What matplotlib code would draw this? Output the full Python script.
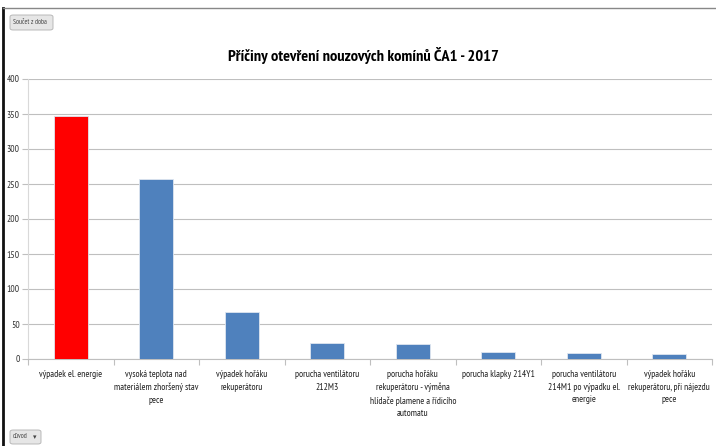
import matplotlib
matplotlib.use("Agg")
import matplotlib.pyplot as plt
from matplotlib.patches import FancyBboxPatch
from matplotlib.lines import Line2D
import numpy as np

plt.rcParams['font.family'] = ['PT Sans Narrow', 'Carlito', 'DejaVu Sans']

categories = [
    "výpadek el. energie",
    "vysoká teplota nad\nmateriálem zhoršený stav\npece",
    "výpadek hořáku\nrekuperátoru",
    "porucha ventilátoru\n212M3",
    "porucha hořáku\nrekuperátoru - výměna\nhlídače plamene a řídicího\nautomatu",
    "porucha klapky 214Y1",
    "porucha ventilátoru\n214M1 po výpadku el.\nenergie",
    "výpadek hořáku\nrekuperátoru, při nájezdu\npece",
]
values = [347, 257, 67, 23, 21, 10, 8, 7]
colors = ["#FF0000"] + ["#4F81BD"] * 7
title = "Příčiny otevření nouzových komínů ČA1 - 2017"
yticks = [0, 50, 100, 150, 200, 250, 300, 350, 400]

W, H = 716, 446
fig = plt.figure(figsize=(W / 100, H / 100), dpi=100)
ax = fig.add_axes([28 / W, (H - 359) / H, 684 / W, 280 / H])

x = np.arange(len(categories))
ax.bar(x, values, width=0.4, color=colors, edgecolor="#dfe6f0", linewidth=0.6, zorder=3)
ax.set_xlim(-0.5, len(categories) - 0.5)
ax.set_ylim(0, 400)
ax.set_yticks(yticks)
ax.set_yticklabels([str(v) for v in yticks], fontsize=6.8, color="#333333")
ax.yaxis.grid(True, color="#bfbfbf", linewidth=0.8, zorder=0)
ax.set_xticks(x)
ax.set_xticklabels(categories, fontsize=6.8, color="#222222", linespacing=1.5, va="top")
ax.set_xticks(np.arange(len(categories) + 1) - 0.5, minor=True)
ax.tick_params(axis="x", which="major", length=0, pad=8)
ax.tick_params(axis="x", which="minor", length=4, color="#bfbfbf", width=0.8)
ax.tick_params(axis="y", length=4, color="#bfbfbf", width=0.8, pad=2)
for s in ["top", "right"]:
    ax.spines[s].set_visible(False)
ax.spines["left"].set_color("#d9d9d9")
ax.spines["bottom"].set_color("#bfbfbf")
ax.spines["left"].set_linewidth(0.8)
ax.spines["bottom"].set_linewidth(0.8)

fig.text(363 / W, 1 - 55 / H, title, ha="center", va="center", fontsize=11.8, fontweight="bold", color="#000000")

# frame
fig.add_artist(Line2D([3 / W, 3 / W], [0, 1 - 8 / H], color="#111111", linewidth=2))
fig.add_artist(Line2D([3 / W, 1], [1 - 8 / H, 1 - 8 / H], color="#888888", linewidth=1))

# buttons
def button(x0, y0, w, h, label, arrow=False):
    p = FancyBboxPatch((x0 / W, 1 - (y0 + h) / H), w / W, h / H,
                       boxstyle="round,pad=0,rounding_size=0.004",
                       transform=fig.transFigure, facecolor="#e6e6e6",
                       edgecolor="#b0b0b0", linewidth=0.6)
    fig.add_artist(p)
    fig.text((x0 + 3) / W, 1 - (y0 + h / 2) / H, label, ha="left", va="center", fontsize=5, color="#444444")
    if arrow:
        fig.text((x0 + w - 6) / W, 1 - (y0 + h / 2) / H, "▾", ha="center", va="center", fontsize=5, color="#444444", family="DejaVu Sans")

button(10, 15, 43, 15, "Součet z doba")
button(10, 430, 31, 14, "důvod", arrow=True)

fig.savefig("out.png", dpi=100)
